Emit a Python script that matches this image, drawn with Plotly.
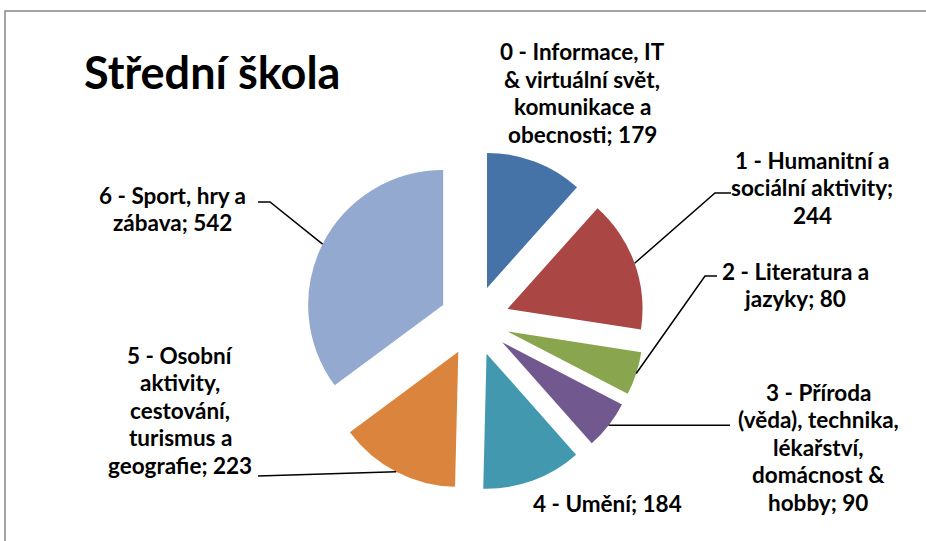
import math
import plotly.graph_objects as go

# ---- data ----
labels = [
    "0 - Informace, IT & virtuální svět, komunikace a obecnosti",
    "1 - Humanitní a sociální aktivity",
    "2 - Literatura a jazyky",
    "3 - Příroda (věda), technika, lékařství, domácnost & hobby",
    "4 - Umění",
    "5 - Osobní aktivity, cestování, turismus a geografie",
    "6 - Sport, hry a zábava",
]
values = [179, 244, 80, 90, 184, 223, 542]
label_lines = [
    ["0 - Informace, IT", "& virtuální svět,", "komunikace a", "obecnosti; 179"],
    ["1 - Humanitní a", "sociální aktivity;", "244"],
    ["2 - Literatura a", "jazyky; 80"],
    ["3 - Příroda", "(věda), technika,", "lékařství,", "domácnost &", "hobby; 90"],
    ["4 - Umění; 184"],
    ["5 - Osobní", "aktivity,", "cestování,", "turismus a", "geografie; 223"],
    ["6 - Sport, hry a", "zábava; 542"],
]
colors = ["#4572A7", "#AA4643", "#89A54E", "#71588F", "#4198AF", "#DB843D", "#93A9CF"]
title = "Střední škola"

# ---- layout geometry (pixels) ----
W, H = 926, 541
CX, CY, R, PULL = 474.5, 320.7, 135.0, 0.26
FONT = "Lato"
FS = 22.5
LH = 27.5

def px(x):
    return x / W

def py(y):
    return 1 - y / H

# label block centres (pixels)
label_pos = [(582, 93), (812, 188), (795, 285), (818, 447), (607, 503), (180, 410), (172, 209)]
# leader line: label-side points (pixels); None = no leader
leader_pts = [
    None,
    [(715, 193), (731, 193)],
    [(705, 276), (717, 276)],
    ["H", (730, None)],
    None,
    [(258, 476)],
    [(270, 202), (258, 202)],
]

ext = R * (1 + PULL)
fig = go.Figure(go.Pie(
    labels=labels,
    values=values,
    sort=False,
    direction="clockwise",
    rotation=0,
    pull=[PULL] * len(values),
    marker=dict(colors=colors, line=dict(width=0)),
    textinfo="none",
    hoverinfo="label+value",
    showlegend=False,
    domain=dict(x=[px(CX - ext), px(CX + ext)], y=[py(CY + ext), py(CY - ext)]),
))

total = sum(values)
shapes = []
cum = 0
for i, v in enumerate(values):
    a0 = cum / total * 2 * math.pi
    cum += v
    a1 = cum / total * 2 * math.pi
    am = (a0 + a1) / 2
    ux, uy = math.sin(am), -math.cos(am)
    ax = CX + ux * R * (1 + PULL)
    ay = CY + uy * R * (1 + PULL)
    pts = leader_pts[i]
    if pts is None:
        continue
    if pts[0] == "H":
        path_pts = [(ax, ay), (pts[1][0], ay)]
    else:
        path_pts = [(ax, ay)] + pts
    d = "M " + " L ".join(f"{px(x):.5f},{py(y):.5f}" for x, y in path_pts)
    shapes.append(dict(type="path", xref="paper", yref="paper", path=d,
                       line=dict(color="black", width=1.5)))

# chart frame
shapes.append(dict(type="rect", xref="paper", yref="paper",
                   x0=px(5), y0=-0.05, x1=1.05, y1=py(11),
                   line=dict(color="#868686", width=1.5), fillcolor="rgba(0,0,0,0)"))

annotations = []
for (x, y), lines in zip(label_pos, label_lines):
    n = len(lines)
    for k, line in enumerate(lines):
        yy = y + (k - (n - 1) / 2) * LH
        annotations.append(dict(
            x=px(x), y=py(yy), xref="paper", yref="paper",
            text=line, showarrow=False,
            xanchor="center", yanchor="middle", align="center",
            font=dict(family=FONT, size=FS, color="black", weight="bold"),
        ))
annotations.append(dict(
    x=px(82), y=py(72), xref="paper", yref="paper", text="<b>" + title + "</b>",
    showarrow=False, xanchor="left", yanchor="middle",
    font=dict(family=FONT, size=45, color="black"),
))

fig.update_layout(
    width=W, height=H,
    margin=dict(l=0, r=0, t=0, b=0),
    paper_bgcolor="white",
    shapes=shapes,
    annotations=annotations,
)
fig.write_html("out.html", config={"displayModeBar": False},
               post_script="document.body.style.margin='0px';")
